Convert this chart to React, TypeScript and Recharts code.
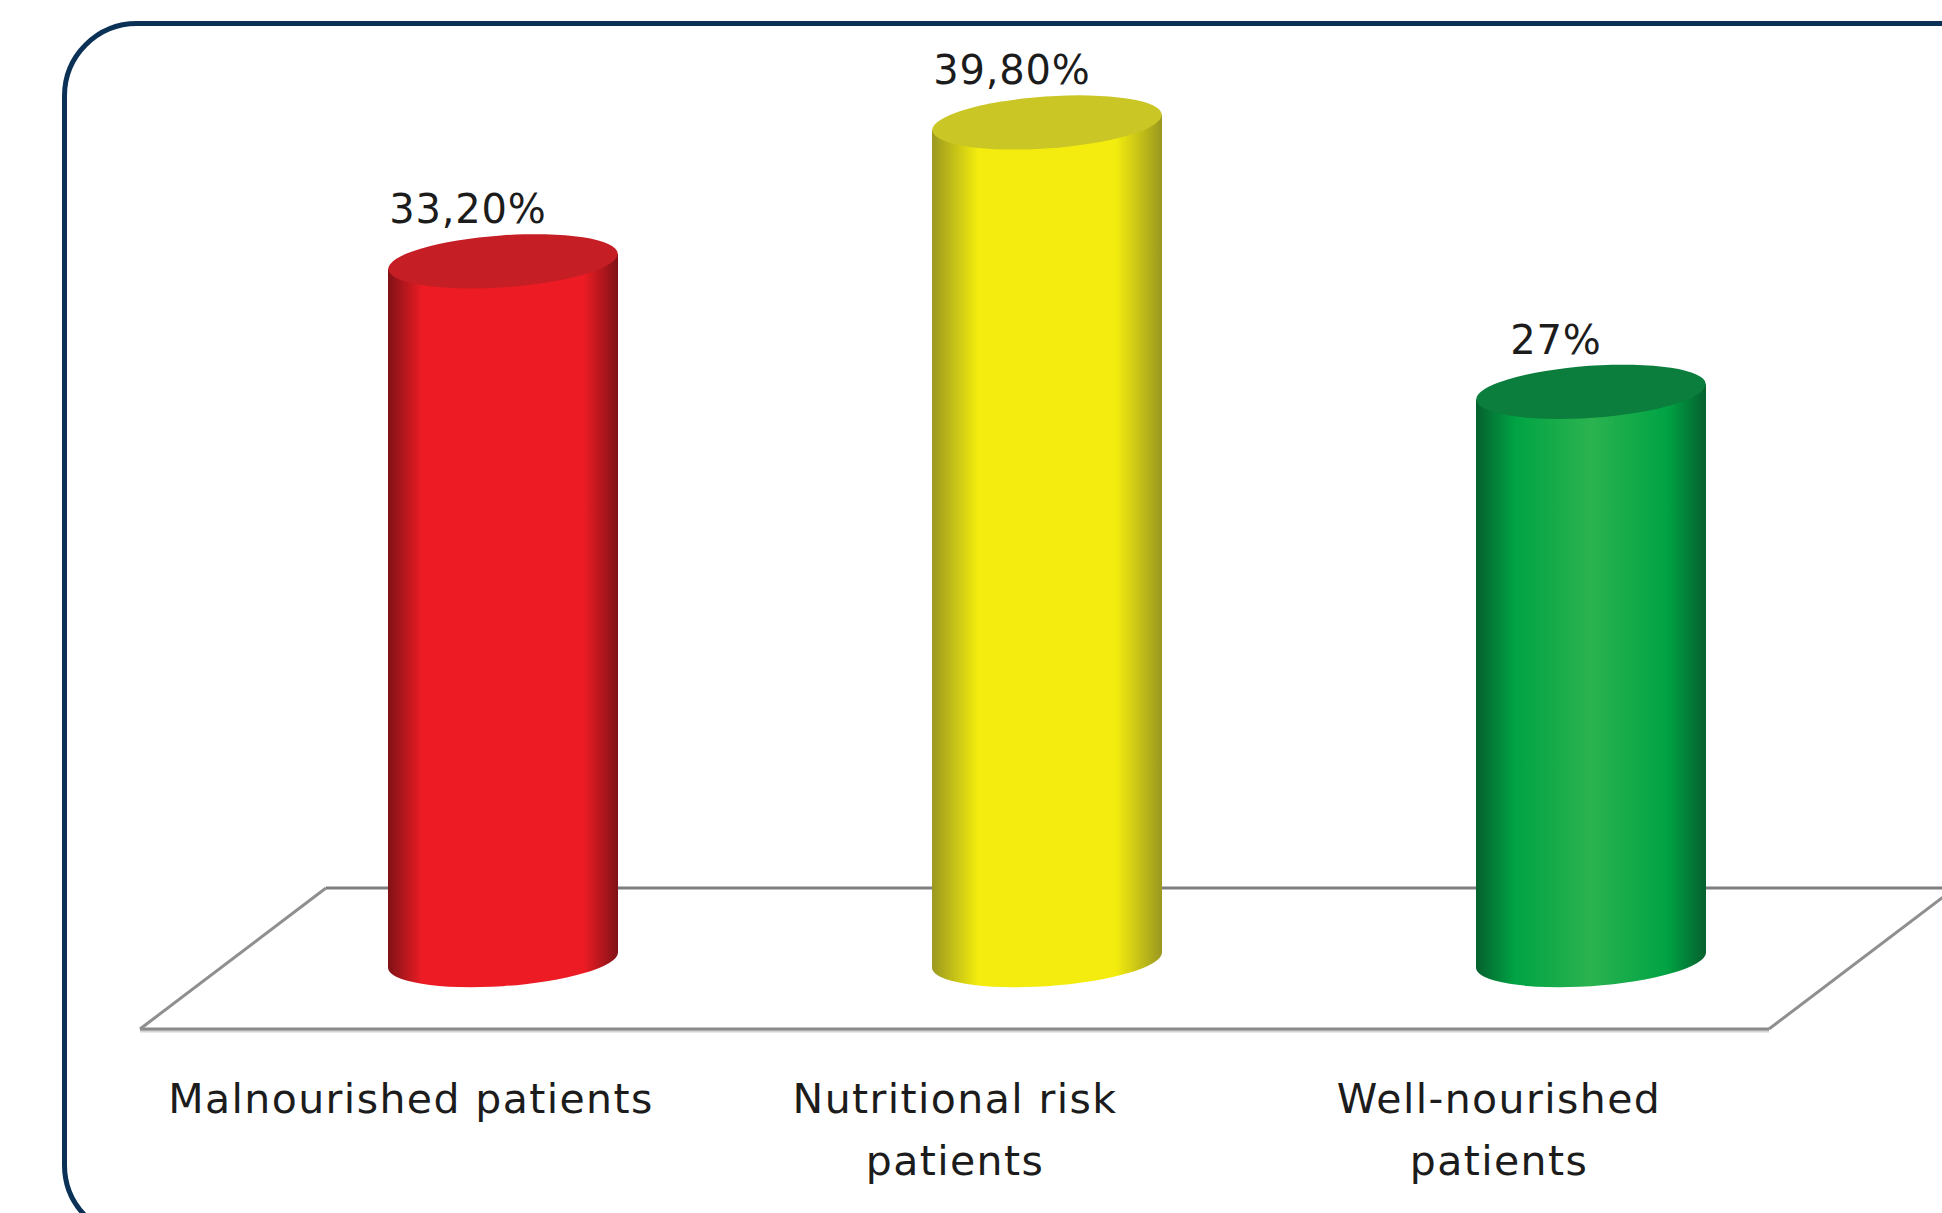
import React from 'react';
import { BarChart, Bar, XAxis, YAxis, LabelList, Customized } from 'recharts';

const categories = ['Malnourished patients', 'Nutritional risk patients', 'Well-nourished patients'];
const categoryLines = [['Malnourished patients'], ['Nutritional risk', 'patients'], ['Well-nourished', 'patients']];
const values = [33.2, 39.8, 27];
const valueLabels = ['33,20%', '39,80%', '27%'];

const bodyColors = [
  { edge: '#7f1216', mid: '#ed1c24', light: '#ed1c24', cap: '#c61e25', stop: 0.15 },
  { edge: '#9a9820', mid: '#f3ec0e', light: '#f3ec0e', cap: '#c9c625', stop: 0.2 },
  { edge: '#05602e', mid: '#00a344', light: '#2bb34f', cap: '#0b7d3c', stop: 0.17 },
];

const data = categories.map((name, i) => ({ name, value: values[i], label: valueLabels[i], idx: i }));

const TILT = 4;
const RX = 115;
const RY = 26;
const FONT = '"DejaVu Sans", sans-serif';

// Tilted-ellipse cylinder standing on the bar's rectangle
const Cylinder = (props: any) => {
  const { x, y, width, height, payload } = props;
  const c = bodyColors[payload.idx];
  const cx = x + width / 2;
  const bottom = y + height;
  const rad = (TILT * Math.PI) / 180;
  const shoulder = ((RX * RX - RY * RY) * Math.sin(rad) * Math.cos(rad)) / RX;
  const left = cx - RX;
  const right = cx + RX;
  const body = [
    `M${left},${y + shoulder}`,
    `L${left},${bottom + shoulder}`,
    `A${RX},${RY} ${-TILT} 0 0 ${right},${bottom - shoulder}`,
    `L${right},${y - shoulder}`,
    'Z',
  ].join(' ');
  return (
    <g>
      <path d={body} fill={`url(#cyl${payload.idx})`} />
      <ellipse cx={cx} cy={y} rx={RX} ry={RY} fill={c.cap} transform={`rotate(${-TILT} ${cx} ${y})`} />
    </g>
  );
};

const CategoryTick = (props: any) => {
  const { x, y, index } = props;
  return (
    <g>
      {categoryLines[index].map((line, i) => (
        <text
          key={line}
          x={x - 92}
          y={y + 145 + i * 62}
          textAnchor="middle"
          fontFamily={FONT}
          fontSize={41}
          letterSpacing={1.4}
          fill="#1c1c1c"
        >
          {line}
        </text>
      ))}
    </g>
  );
};

const ValueLabel = (props: any) => {
  const { x, y, width, value } = props;
  return (
    <text
      x={x + width / 2 - 35}
      y={y - 38}
      textAnchor="middle"
      fontFamily={FONT}
      fontSize={40}
      letterSpacing={0.8}
      fill="#1c1c1c"
    >
      {value}
    </text>
  );
};

// Floor of the 3D plot, sits behind the cylinders
const Floor = () => (
  <g fill="none">
    <path d="M140,1031 L1769,1031" stroke="#d4d4d4" strokeWidth={3} />
    <path d="M326,888 L1942,888" stroke="#7f7f7f" strokeWidth={3} />
    <path d="M140,1029 L1769,1029" stroke="#8a8a8a" strokeWidth={3} />
    <path d="M140,1029 L326,888" stroke="#8f8f8f" strokeWidth={3} />
    <path d="M1769,1029 L1955,888" stroke="#8f8f8f" strokeWidth={3} />
  </g>
);

export default function App() {
  return (
    <div style={{ position: 'absolute', left: 0, top: 0, width: 1942, height: 1213, overflow: 'hidden', background: '#fff' }}>
      <div
        style={{
          position: 'absolute',
          left: 62,
          top: 21,
          width: 2100,
          height: 1219,
          boxSizing: 'border-box',
          border: '5px solid #0b3157',
          borderRadius: 75,
        }}
      />
      <BarChart
        width={1942}
        height={1213}
        data={data}
        margin={{ top: 13, right: 79, bottom: 0, left: 231 }}
        barSize={230}
        style={{ position: 'absolute', left: 0, top: 0 }}
      >
        <defs>
          {bodyColors.map((c, i) => (
            <linearGradient key={i} id={`cyl${i}`} x1="0" y1="0" x2="1" y2="0">
              <stop offset="0" stopColor={c.edge} />
              <stop offset={c.stop} stopColor={c.mid} />
              <stop offset="0.5" stopColor={c.light} />
              <stop offset={1 - c.stop} stopColor={c.mid} />
              <stop offset="1" stopColor={c.edge} />
            </linearGradient>
          ))}
        </defs>
        <Customized component={Floor} />
        <YAxis hide domain={[0, 45]} />
        <XAxis dataKey="name" height={253} axisLine={false} tickLine={false} interval={0} tick={<CategoryTick />} />
        <Bar dataKey="value" shape={<Cylinder />} isAnimationActive={false}>
          <LabelList dataKey="label" content={<ValueLabel />} />
        </Bar>
      </BarChart>
    </div>
  );
}
